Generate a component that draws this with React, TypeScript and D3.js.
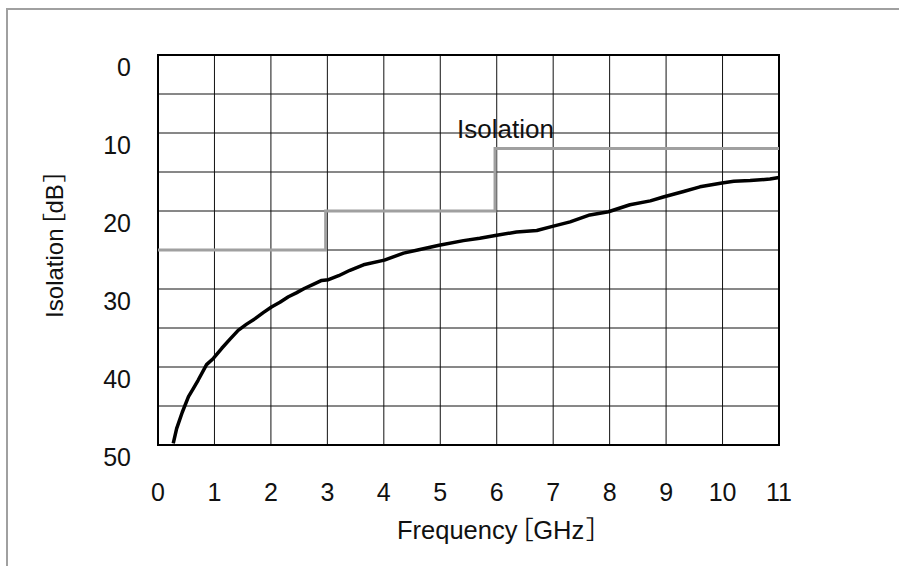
import * as d3 from 'd3'

// measured isolation (GHz, dB)
const freqs = [0.27, 0.33, 0.43, 0.54, 0.63, 0.71, 0.86, 0.98, 1.13, 1.28, 1.42, 1.57, 1.72, 1.87, 2.01, 2.16, 2.31, 2.45, 2.6, 2.75, 2.9, 3.02, 3.2, 3.4, 3.64, 4.01, 4.35, 4.6, 4.98, 5.41, 5.7, 6.0, 6.35, 6.71, 6.97, 7.3, 7.65, 7.98, 8.36, 8.72, 8.95, 9.31, 9.6, 9.99, 10.2, 10.49, 10.84, 11.0]
const isolation = [49.8, 47.9, 45.8, 43.8, 42.7, 41.7, 39.7, 38.9, 37.6, 36.4, 35.3, 34.5, 33.8, 33.0, 32.3, 31.7, 31.0, 30.5, 29.9, 29.4, 28.9, 28.8, 28.3, 27.6, 26.9, 26.3, 25.4, 25.0, 24.4, 23.8, 23.5, 23.1, 22.7, 22.5, 22.0, 21.4, 20.5, 20.1, 19.2, 18.7, 18.2, 17.5, 16.9, 16.4, 16.2, 16.1, 15.9, 15.7]

// spec limit line
const specFreqs = [0, 2.97, 2.97, 5.97, 5.97, 11]
const specLevels = [25, 25, 20, 20, 12, 12]

const xTicks = d3.range(0, 12)
const yTicks = [0, 10, 20, 30, 40, 50]
const yGrid = d3.range(5, 50, 5)

const font = "'Liberation Sans', Arial, 'Noto Sans CJK JP', sans-serif"
// proportional widths for the full-width brackets
const palt = { fontFeatureSettings: "'palt' 1" }

export default function App() {
  const left = 158
  const right = 779
  const top = 55
  const bottom = 445

  const x = d3.scaleLinear().domain([0, 11]).range([left, right])
  const y = d3.scaleLinear().domain([0, 50]).range([top, bottom])

  const line = d3
    .line<number>()
    .x((d, i) => x(freqs[i]))
    .y((d) => y(d))

  const specLine = d3
    .line<number>()
    .x((d, i) => x(specFreqs[i]))
    .y((d) => y(d))

  return (
    <svg
      width={899}
      height={566}
      style={{ position: 'absolute', left: 0, top: 0, background: '#fff' }}
      fontFamily={font}
    >
      <rect x={7} y={9} width={1000} height={1000} fill="none" stroke="#a0a0a0" strokeWidth={2} />

      {/* grid */}
      {xTicks.slice(1, -1).map((t) => (
        <line key={'vx' + t} x1={x(t)} x2={x(t)} y1={top} y2={bottom} stroke="#111" strokeWidth={1} />
      ))}
      {yGrid.map((t) => (
        <line key={'hy' + t} x1={left} x2={right} y1={y(t)} y2={y(t)} stroke="#111" strokeWidth={1} />
      ))}
      <rect x={left} y={top} width={right - left} height={bottom - top} fill="none" stroke="#000" strokeWidth={2} />

      {/* spec and data */}
      <path d={specLine(specLevels) ?? ''} fill="none" stroke="#a0a0a0" strokeWidth={3} />
      <path d={line(isolation) ?? ''} fill="none" stroke="#000" strokeWidth={3.5} strokeLinejoin="round" />

      <text x={457} y={138} fontSize={26} fill="#111">
        Isolation
      </text>

      {/* y tick labels */}
      {yTicks.map((t) => (
        <text key={'yt' + t} x={131} y={y(t) + 20.5} fontSize={25} textAnchor="end" fill="#111">
          {t}
        </text>
      ))}
      {/* x tick labels */}
      {xTicks.map((t) => (
        <text key={'xt' + t} x={x(t)} y={501} fontSize={25} textAnchor="middle" fill="#111">
          {t}
        </text>
      ))}

      <text x={397} y={539} fontSize={25.5} fill="#111" style={palt}>
        Frequency<tspan dx={3}>［</tspan>GHz<tspan dx={2}>］</tspan>
      </text>
      <text transform="translate(63,244) rotate(-90)" fontSize={24} textAnchor="middle" fill="#111" style={palt}>
        Isolation<tspan dx={3}>［</tspan>dB<tspan dx={2}>］</tspan>
      </text>
    </svg>
  )
}
